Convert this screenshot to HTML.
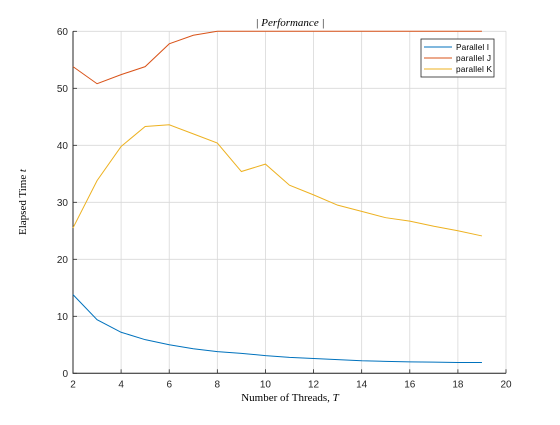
<!DOCTYPE html>
<html><head><meta charset="utf-8"><style>
body{margin:0;background:#fff;}
svg text{font-family:"Liberation Sans",sans-serif;}
</style></head><body>
<svg id="chart" width="560" height="420" xmlns="http://www.w3.org/2000/svg">
<rect width="560" height="420" fill="#fff"/>
<g id="grid"></g><g id="axes"></g><g id="series"></g>
<text x="290" y="26" text-anchor="middle" font-size="11" font-style="italic" style="font-family:'Liberation Serif',serif">| Performance |</text>
<text x="290" y="401" text-anchor="middle" font-size="11" style="font-family:'Liberation Serif',serif">Number of Threads, <tspan font-style="italic">T</tspan></text>
<text transform="translate(26,202) rotate(-90)" text-anchor="middle" font-size="11" style="font-family:'Liberation Serif',serif">Elapsed Time <tspan font-style="italic">t</tspan></text>
<g>
<rect x="421" y="39" width="73" height="38" fill="#fff" stroke="#262626" stroke-width="0.8"/>
<line x1="424" y1="47" x2="452" y2="47" stroke="#0072BD"/><text x="456" y="50" font-size="8.3" textLength="33">Parallel I</text>
<line x1="424" y1="58" x2="452" y2="58" stroke="#D95319"/><text x="456" y="61" font-size="8.3" textLength="35">parallel J</text>
<line x1="424" y1="69" x2="452" y2="69" stroke="#EDB120"/><text x="456" y="72" font-size="8.3" textLength="36">parallel K</text>
</g>
</svg>
<script>
const threads=[2,3,4,5,6,7,8,9,10,11,12,13,14,15,16,17,18,19];
const seriesI=[13.8,9.4,7.2,5.9,5.0,4.3,3.8,3.5,3.1,2.8,2.6,2.4,2.2,2.1,2.0,1.95,1.9,1.9];
const seriesJ=[53.8,50.8,52.4,53.8,57.8,59.3,60,60,60,60,60,60,60,60,60,60,60,60];
const seriesK=[25.5,33.8,39.8,43.3,43.6,42,40.4,35.4,36.7,33,31.3,29.5,28.4,27.3,26.7,25.8,25,24.1];
const xTicks=[2,4,6,8,10,12,14,16,18,20];
const yTicks=[0,10,20,30,40,50,60];
const NS="http://www.w3.org/2000/svg";
const L=73,R=506,T=31.3,B=373.3;
const xs=v=>L+(v-2)/18*(R-L);
const ys=v=>B-v/60*(B-T);
const grid=document.getElementById('grid'),axes=document.getElementById('axes'),ser=document.getElementById('series');
function mk(tag,a,p){const e=document.createElementNS(NS,tag);for(const k in a)e.setAttribute(k,a[k]);p.appendChild(e);return e;}
xTicks.forEach(t=>{
 const g=mk('line',{x1:xs(t),x2:xs(t),y1:T,y2:B,stroke:'#d8d8d8','stroke-width':0.8},grid);
 
 
 mk('line',{x1:xs(t),x2:xs(t),y1:B,y2:B-4,stroke:'#262626','stroke-width':0.8},axes);
 const tx=mk('text',{x:xs(t),y:B+14,'text-anchor':'middle','font-size':10,fill:'#262626'},axes);
 tx.textContent=t;
 
 
});
yTicks.forEach(t=>{
 const g=mk('line',{x1:L,x2:R,y1:ys(t),y2:ys(t),stroke:'#d8d8d8','stroke-width':0.8},grid);
 
 
 mk('line',{x1:L,x2:L+4,y1:ys(t),y2:ys(t),stroke:'#262626','stroke-width':0.8},axes);
 const tx=mk('text',{x:L-5,y:ys(t)+3.5,'text-anchor':'end','font-size':10,fill:'#262626'},axes);
 tx.textContent=t;
 
 
});
const ax=mk('path',{d:`M${L},${T}V${B}H${R}`,fill:'none',stroke:'#262626','stroke-width':1},axes);


[[seriesI,'#0072BD','series-parallel-i'],[seriesJ,'#D95319','series-parallel-j'],[seriesK,'#EDB120','series-parallel-k']].forEach(([d,c,n])=>{
 const p=mk('polyline',{points:d.map((v,i)=>xs(threads[i])+','+ys(v)).join(' '),fill:'none',stroke:c,'stroke-width':1},ser);
 
 
});
</script>
</body></html>
